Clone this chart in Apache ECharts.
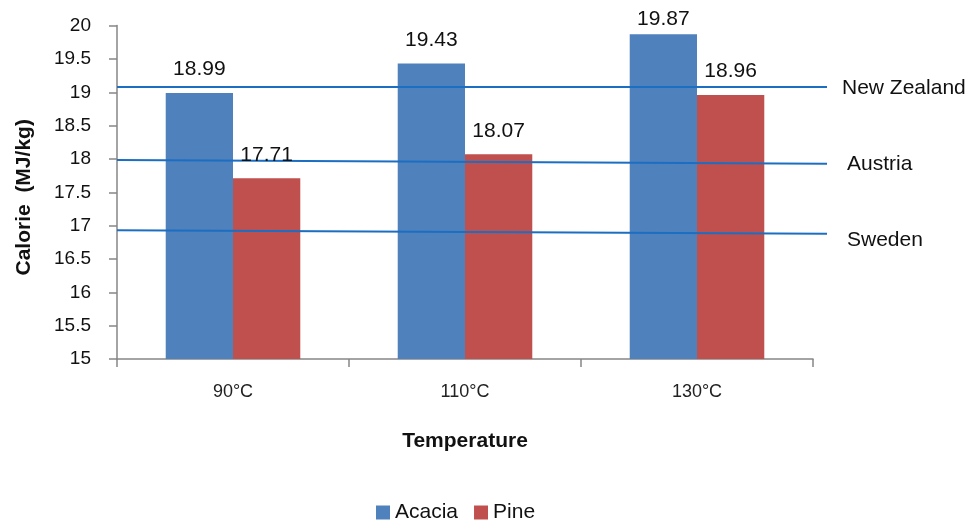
<!DOCTYPE html>
<html>
<head>
<meta charset="utf-8">
<script src="https://cdn.jsdelivr.net/npm/echarts@6/dist/echarts.min.js"></script>
<style>html,body{margin:0;padding:0;background:#fff}#c{width:968px;height:520px}</style>
</head>
<body>
<div id="c"></div>
<script>
const categories = ['90\u00B0C', '110\u00B0C', '130\u00B0C'];
const acacia = [18.99, 19.43, 19.87];
const pine = [17.71, 18.07, 18.96];
const refNames = ['New Zealand', 'Austria', 'Sweden'];
const refStart = [19.08, 17.985, 16.93];
const refEnd = [19.08, 17.93, 16.88];
const yTicks = [15, 15.5, 16, 16.5, 17, 17.5, 18, 18.5, 19, 19.5, 20];

const FONT = '"Liberation Sans", Arial, sans-serif';
const chart = echarts.init(document.getElementById('c'), null, {renderer: 'canvas'});

const gridTop = 25.6, gridBottom = 161;
const barCommon = {barGap: '0%', barCategoryGap: '42%'};

const refSeries = refNames.map((n, i) => ({
  type: 'line', name: n, xAxisIndex: 1, yAxisIndex: 1, z: 3,
  symbol: 'circle', symbolSize: 0, showSymbol: true, silent: true,
  itemStyle: {color: 'rgba(0,0,0,0)'},
  lineStyle: {color: '#1B6EC2', width: 2},
  data: [[0, refStart[i]], {value: [1, refEnd[i]], label: {
    show: true, position: 'right', distance: 15, formatter: n,
    color: '#111', fontSize: 21, fontFamily: FONT,
    offset: [i === 0 ? 0 : 5, i === 2 ? 7 : 1]
  }}]
}));

const barLabel = {show: true, position: 'top', distance: 13, fontSize: 21, color: '#111', fontFamily: FONT};
// the tallest bar's label sits closer to the bar (kept inside the chart area)
const withTopClamp = arr => arr.map(v => v >= 19.8 ? {value: v, label: {distance: 5}} : v);

chart.setOption({
  animation: false,
  textStyle: {fontFamily: FONT},
  legend: {
    top: 497, left: 371, itemWidth: 14, itemHeight: 14, itemGap: 16,
    icon: 'rect', data: ['Acacia', 'Pine'],
    textStyle: {fontSize: 21, color: '#111', fontFamily: FONT}
  },
  grid: [
    {left: 117, right: 155, top: gridTop, bottom: gridBottom},
    {left: 117, right: 141, top: gridTop, bottom: gridBottom}
  ],
  xAxis: [
    {type: 'category', gridIndex: 0, data: categories,
     name: 'Temperature', nameLocation: 'middle', nameGap: 72,
     nameTextStyle: {fontSize: 21, fontWeight: 'bold', color: '#111', fontFamily: FONT},
     axisLine: {lineStyle: {color: '#868686', width: 1.5}},
     axisTick: {show: true, length: 8, lineStyle: {color: '#868686', width: 1.5}},
     axisLabel: {fontSize: 18, color: '#222', margin: 24, fontFamily: FONT}},
    {type: 'value', gridIndex: 1, min: 0, max: 1, show: false},
    {type: 'category', gridIndex: 0, data: categories, show: false}
  ],
  yAxis: [
    {type: 'value', gridIndex: 0, min: 15, max: 20, interval: 0.5,
     name: 'Calorie  (MJ/kg)', nameLocation: 'middle', nameGap: 82,
     nameTextStyle: {fontSize: 21, fontWeight: 'bold', color: '#111', fontFamily: FONT, padding: [0, 10, 0, 0]},
     axisLine: {show: true, lineStyle: {color: '#868686', width: 1.5}},
     axisTick: {show: true, length: 8, lineStyle: {color: '#868686', width: 1.5}},
     splitLine: {show: false},
     axisLabel: {fontSize: 19, color: '#111', margin: 26, fontFamily: FONT,
       formatter: v => yTicks.indexOf(v) >= 0 ? String(v) : ''}},
    {type: 'value', gridIndex: 1, min: 15, max: 20, show: false}
  ],
  series: [
    Object.assign({type: 'bar', name: 'Acacia', data: acacia, z: 2,
      itemStyle: {color: '#4F81BD'}}, barCommon),
    Object.assign({type: 'bar', name: 'Pine', data: pine, z: 2,
      itemStyle: {color: '#C0504D'}}, barCommon),
    ...refSeries,
    Object.assign({type: 'bar', name: 'AcaciaLabel', xAxisIndex: 2, data: withTopClamp(acacia), z: 5, silent: true,
      itemStyle: {color: 'rgba(0,0,0,0)'}, label: barLabel}, barCommon),
    Object.assign({type: 'bar', name: 'PineLabel', xAxisIndex: 2, data: withTopClamp(pine), z: 5, silent: true,
      itemStyle: {color: 'rgba(0,0,0,0)'}, label: barLabel}, barCommon)
  ]
});
</script>
</body>
</html>
